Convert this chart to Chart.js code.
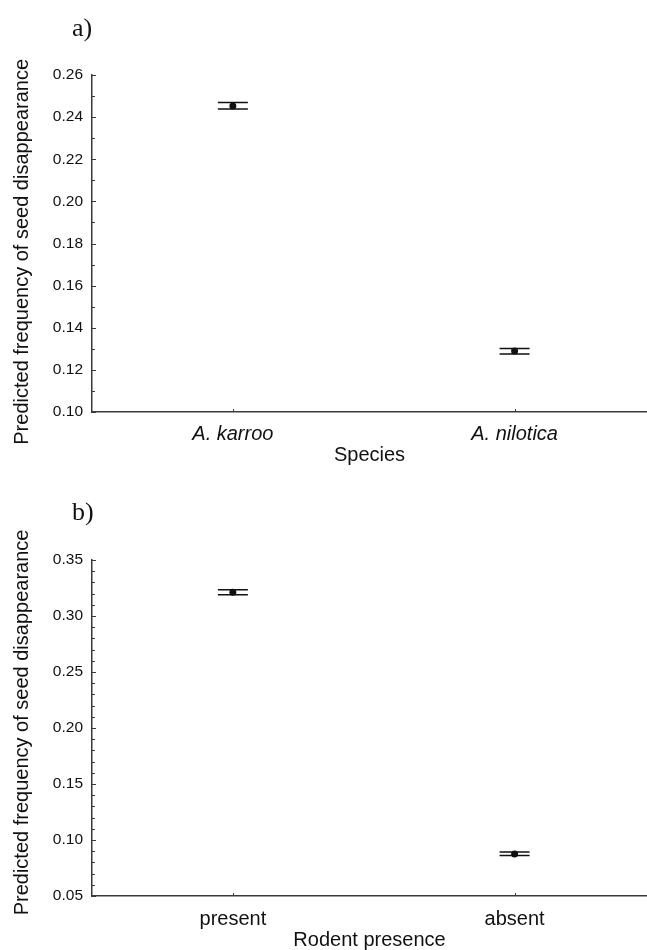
<!DOCTYPE html>
<html>
<head>
<meta charset="utf-8">
<script src="https://cdn.jsdelivr.net/npm/chart.js@4"></script>
<style>
  html, body { margin: 0; padding: 0; background: #fff; overflow: hidden; width: 647px; }
  .panel { position: relative; width: 647px; height: 475px; overflow: hidden; }
  .tag { position: absolute; left: 72px; font: 26px "Liberation Serif", serif; line-height: 1; color: #111; }
</style>
</head>
<body>
<div class="panel"><div class="tag" style="top:15px">a)</div><canvas id="chartA" width="651" height="475"></canvas></div>
<div class="panel"><div class="tag" style="top:24px">b)</div><canvas id="chartB" width="651" height="475"></canvas></div>
<script>
const speciesLabels = ['A. karroo', 'A. nilotica']
const speciesMean = [0.2453, 0.1290]
const speciesUpper = [0.2469, 0.1302]
const speciesLower = [0.2439, 0.1275]

const rodentLabels = ['present', 'absent']
const rodentMean = [0.3211, 0.0874]
const rodentUpper = [0.3234, 0.0892]
const rodentLower = [0.3189, 0.0862]

const yTitle = 'Predicted frequency of seed disappearance'
const axisColor = '#3a3a3a'
const sans = '"Liberation Sans", Arial, sans-serif'

// error bars: two caps and a stem, drawn under the points
const errorBars = {
    id: 'errorBars',
    beforeDatasetsDraw(chart, args, opts) {
        const { ctx, scales: { x, y } } = chart
        ctx.save()
        ctx.strokeStyle = '#111'
        ctx.lineWidth = 1.5
        opts.upper.forEach((u, i) => {
            const px = x.getPixelForValue(i)
            const yu = y.getPixelForValue(u)
            const yl = y.getPixelForValue(opts.lower[i])
            ctx.beginPath()
            ctx.moveTo(px - 15, yu); ctx.lineTo(px + 15, yu)
            ctx.moveTo(px - 15, yl); ctx.lineTo(px + 15, yl)
            ctx.moveTo(px, yu); ctx.lineTo(px, yl)
            ctx.stroke()
        })
        ctx.restore()
    }
}

// tick marks pointing into the plot
const innerTicks = {
    id: 'innerTicks',
    afterDraw(chart) {
        const { ctx, chartArea, scales: { x, y } } = chart
        ctx.save()
        ctx.strokeStyle = axisColor
        ctx.lineWidth = 1
        ctx.beginPath()
        y.ticks.forEach(t => {
            const py = Math.round(y.getPixelForValue(t.value)) + 0.5
            const len = t.label ? 4 : 3
            ctx.moveTo(chartArea.left, py); ctx.lineTo(chartArea.left + len, py)
        })
        x.ticks.forEach(t => {
            const px = Math.round(x.getPixelForValue(t.value)) + 0.5
            ctx.moveTo(px, chartArea.bottom); ctx.lineTo(px, chartArea.bottom - 3)
        })
        ctx.stroke()
        ctx.restore()
    }
}

function drawChart(id, o) {
    const ctx = document.getElementById(id).getContext('2d')
    return new Chart(ctx, {
        type: 'scatter',
        data: {
            datasets: [{
                data: o.mean.map((v, i) => ({ x: i, y: v })),
                pointRadius: 3.5,
                pointBackgroundColor: '#111',
                pointBorderWidth: 0,
                showLine: false
            }]
        },
        options: {
            responsive: false,
            animation: false,
            layout: { padding: { top: o.top, left: 0, right: 0, bottom: 0 } },
            plugins: {
                legend: { display: false },
                tooltip: { enabled: false },
                errorBars: { upper: o.upper, lower: o.lower }
            },
            scales: {
                x: {
                    type: 'linear',
                    min: -0.5,
                    max: 1.47,
                    afterBuildTicks: s => { s.ticks = o.labels.map((l, i) => ({ value: i })) },
                    afterFit: s => { s.height = o.xHeight },
                    grid: { display: false, drawTicks: false },
                    border: { display: true, color: axisColor, width: 1.5 },
                    ticks: {
                        autoSkip: false,
                        maxRotation: 0,
                        padding: o.xPad,
                        color: '#111',
                        font: { family: sans, size: 20, style: o.italic ? 'italic' : 'normal' },
                        callback: v => o.labels[v]
                    },
                    title: {
                        display: true,
                        text: o.xTitle,
                        color: '#111',
                        font: { family: sans, size: 20 },
                        padding: { top: 0, bottom: o.xTitlePad }
                    }
                },
                y: {
                    min: o.min,
                    max: o.max,
                    afterFit: s => { s.width = 92 },
                    grid: { display: false, drawTicks: false },
                    border: { display: true, color: axisColor, width: 1.5 },
                    ticks: {
                        stepSize: 0.01,
                        autoSkip: false,
                        padding: 9,
                        color: '#111',
                        font: { family: sans, size: 15.5 },
                        callback: v => Math.round(v * 100) % o.major === 0 ? v.toFixed(2) : ''
                    },
                    title: {
                        display: true,
                        // padding spaces nudge the label along the axis like the original
                        text: o.yTitleText,
                        color: '#111',
                        font: { family: sans, size: 20 },
                        padding: { top: 10, bottom: 0 }
                    }
                }
            }
        },
        plugins: [errorBars, innerTicks]
    })
}

drawChart('chartA', {
    labels: speciesLabels, mean: speciesMean, upper: speciesUpper, lower: speciesLower,
    min: 0.10, max: 0.26, major: 2, top: 75, xHeight: 63, xPad: 10, xTitlePad: 8,
    italic: true, xTitle: 'Species', yTitleText: yTitle + '   '
})
drawChart('chartB', {
    labels: rodentLabels, mean: rodentMean, upper: rodentUpper, lower: rodentLower,
    min: 0.05, max: 0.35, major: 5, top: 85, xHeight: 54, xPad: 11, xTitlePad: -2,
    italic: false, xTitle: 'Rodent presence', yTitleText: '  ' + yTitle
})
</script>
</body>
</html>
